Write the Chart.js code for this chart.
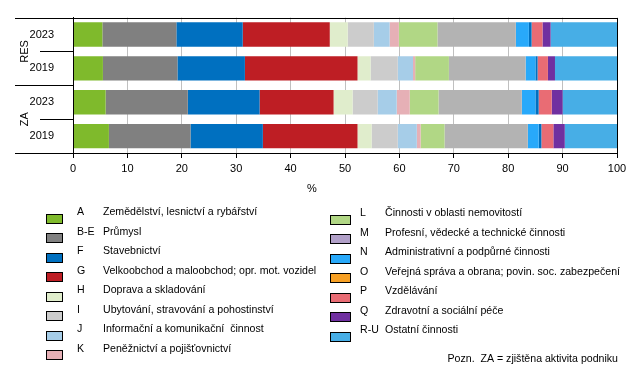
<!DOCTYPE html>
<html>
<head>
<meta charset="utf-8">
<script src="https://cdn.jsdelivr.net/npm/chart.js@4"></script>
<style>
  html, body { margin: 0; padding: 0; background: #fff; }
  #wrap { width: 639px; height: 377px; }
</style>
</head>
<body>
<div id="wrap"><canvas id="odvetvi_chart" width="639" height="377"></canvas></div>
<script>
var bars = ['2023', '2019', '2023', '2019'];
var groups = ['RES', 'ZA'];

var codes = ['A', 'B-E', 'F', 'G', 'H', 'I', 'J', 'K', 'L', 'M', 'N', 'O', 'P', 'Q', 'R-U'];
var names = [
    'Zemědělství, lesnictví a rybářství',
    'Průmysl',
    'Stavebnictví',
    'Velkoobchod a maloobchod; opr. mot. vozidel',
    'Doprava a skladování',
    'Ubytování, stravování a pohostinství',
    'Informační a komunikační  činnost',
    'Peněžnictví a pojišťovnictví',
    'Činnosti v oblasti nemovitostí',
    'Profesní, vědecké a technické činnosti',
    'Administrativní a podpůrné činnosti',
    'Veřejná správa a obrana; povin. soc. zabezpečení',
    'Vzdělávání',
    'Zdravotní a sociální péče',
    'Ostatní činnosti'
];

// podily v % po odvetvich (A ... R-U)
var res2023 = [5.4, 13.6, 12.2, 16.0, 3.3, 4.8, 2.9, 1.7, 7.1, 14.4, 2.4, 0.5, 2.0, 1.5, 12.2];
var res2019 = [5.5, 13.7, 12.4, 20.7, 2.4, 5.0, 2.8, 0.4, 6.2, 14.1, 1.8, 0.4, 1.9, 1.3, 11.4];
var za2023  = [6.0, 15.1, 13.2, 13.6, 3.5, 4.6, 3.5, 2.4, 5.3, 15.3, 2.5, 0.6, 2.4, 2.0, 10.0];
var za2019  = [6.6, 15.0, 13.3, 17.4, 2.6, 4.8, 3.5, 0.7, 4.4, 15.3, 2.0, 0.5, 2.2, 2.1, 9.6];

var xTicks = [0, 10, 20, 30, 40, 50, 60, 70, 80, 90, 100];

var barColors = ['#7fba2c', '#808080', '#0070c0', '#be1e24', '#e0edcc', '#cccccc', '#a6cde8', '#e6b0b6',
                 '#b1d785', '#b3b3b3', '#28a9fa', '#0070c0', '#e96c74', '#7030a0', '#47aee6'];
var legendColors = ['#7fba2c', '#808080', '#0070c0', '#be1e24', '#e0edcc', '#cccccc', '#a6cde8', '#e6b0b6',
                    '#b1d785', '#b1a0c8', '#28a9fa', '#f7a024', '#e96c74', '#7030a0', '#47aee6'];

var FONT = 'Liberation Sans';
Chart.defaults.font.family = FONT;
Chart.defaults.font.size = 11;
Chart.defaults.color = '#000';

var rows = [res2023, res2019, za2023, za2019];
var datasets = codes.map(function (c, i) {
    return {
        label: c + ' ' + names[i],
        data: rows.map(function (r) { return r[i]; }),
        backgroundColor: barColors[i],
        borderWidth: 0,
        barPercentage: 0.72,
        categoryPercentage: 1
    };
});

var decor = {
    id: 'decor',
    afterDraw: function (chart) {
        var ctx = chart.ctx;
        var a = chart.chartArea;
        var band = (a.bottom - a.top) / bars.length;
        ctx.save();
        ctx.strokeStyle = '#000';
        ctx.lineWidth = 1;
        // ramecek grafu
        ctx.strokeRect(Math.round(a.left) + 0.5, Math.round(a.top) + 0.5,
            Math.round(a.right - a.left), Math.round(a.bottom - a.top));
        // oddelovace na ose y
        ctx.beginPath();
        for (var k = 0; k <= bars.length; k++) {
            var y = Math.round(a.top + k * band) + 0.5;
            ctx.moveTo(k % 2 === 0 ? 15 : 40, y);
            ctx.lineTo(a.left, y);
        }
        ctx.stroke();
        // skupiny
        ctx.fillStyle = '#000';
        ctx.font = '11px ' + FONT;
        ctx.textAlign = 'center';
        ctx.textBaseline = 'middle';
        groups.forEach(function (g, i) {
            ctx.save();
            ctx.translate(25, a.top + band * (2 * i + 1));
            ctx.rotate(-Math.PI / 2);
            ctx.fillText(g, 0, 0);
            ctx.restore();
        });
        // popis osy x
        ctx.fillText('%', 312, 189);
        // legenda
        ctx.font = '10.6px ' + FONT;
        ctx.textAlign = 'left';
        codes.forEach(function (c, i) {
            var left = i < 8;
            var r = left ? i : i - 8;
            var ty = (left ? 212.5 : 213.5) + r * 19.5;
            var sx = left ? 46 : 330;
            var sw = left ? 16 : 20;
            ctx.fillStyle = legendColors[i];
            ctx.fillRect(sx, Math.round(ty) + 1, sw, 9);
            ctx.strokeStyle = '#000';
            ctx.strokeRect(sx + 0.5, Math.round(ty) + 1.5, sw, 9);
            ctx.fillStyle = '#000';
            ctx.fillText(c, left ? 77 : 360, ty);
            ctx.fillText(names[i], left ? 103 : 385, ty);
        });
        ctx.textAlign = 'right';
        ctx.fillText('Pozn.  ZA = zjištěna aktivita podniku', 618, 359);
        ctx.restore();
    }
};

new Chart(document.getElementById('odvetvi_chart'), {
    type: 'bar',
    data: { labels: bars, datasets: datasets },
    options: {
        indexAxis: 'y',
        responsive: false,
        animation: false,
        layout: { padding: { top: 9, right: 22, bottom: 174, left: 0 } },
        plugins: { legend: { display: false }, tooltip: { enabled: false } },
        scales: {
            x: {
                stacked: true,
                min: 0,
                max: 100,
                afterBuildTicks: function (s) { s.ticks = xTicks.map(function (v) { return { value: v }; }); },
                afterFit: function (s) { s.height = 50; },
                grid: { color: '#c0c0c0', tickColor: '#000', tickLength: 5, drawOnChartArea: true },
                border: { color: '#000' },
                ticks: { padding: 4, font: { size: 11 } }
            },
            y: {
                stacked: true,
                afterFit: function (s) { s.width = 73; },
                grid: { display: false },
                border: { color: '#000' },
                ticks: { padding: 11, font: { size: 11 } }
            }
        }
    },
    plugins: [decor]
});
</script>
</body>
</html>
